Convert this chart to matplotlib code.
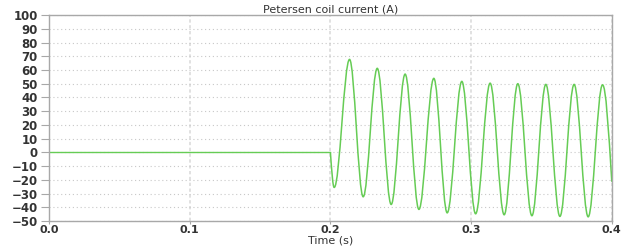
import matplotlib
matplotlib.use('Agg')
from matplotlib import pyplot as plt
from matplotlib.path import Path
from matplotlib.patches import PathPatch
import numpy as np

# current is zero until the fault at 0.2 s
t_flat = [0.0, 0.2]
i_flat = [0.0, 0.0]

# turning points of the coil current (s, A)
t_ext = [0.2000, 0.2027, 0.2136, 0.2233, 0.2333, 0.2432, 0.2531, 0.2629,
         0.2735, 0.2830, 0.2934, 0.3032, 0.3135, 0.3235, 0.3332, 0.3432,
         0.3531, 0.3631, 0.3732, 0.3832, 0.3934, 0.4000]
i_ext = [0.0, -25.5, 67.7, -32.3, 61.2, -37.9, 57.0, -41.5,
         53.9, -44.0, 51.7, -44.7, 50.4, -45.4, 50.0, -46.1,
         49.5, -46.6, 49.5, -46.9, 49.2, -21.4]

x_ticks = [0.0, 0.1, 0.2, 0.3, 0.4]
y_ticks = list(range(-50, 101, 10))

line_color = '#66cc55'
text_color = '#333333'


def smooth_path(ts, ys):
    # cubic bezier pieces, flat at each turning point
    verts = [(ts[0], ys[0])]
    codes = [Path.MOVETO]
    n = len(ts)
    for k in range(n - 1):
        t0, y0 = ts[k], ys[k]
        t1, y1 = ts[k + 1], ys[k + 1]
        d = t1 - t0
        s0 = 0.0
        s1 = 0.0
        if k == 0:
            s0 = (y1 - y0) / d * 1.5
        if k + 1 == n - 1:
            s1 = (y1 - y0) / d * 1.5
        a = 0.36
        verts += [(t0 + a * d, y0 + s0 * a * d),
                  (t1 - a * d, y1 - s1 * a * d),
                  (t1, y1)]
        codes += [Path.CURVE4] * 3
    return Path(verts, codes)


fig, ax = plt.subplots(figsize=(6.42, 2.47), dpi=100)
fig.subplots_adjust(left=0.0763, right=0.953, top=0.939, bottom=0.105)

ax.plot(t_flat, i_flat, color=line_color, lw=1.0)
ax.add_patch(PathPatch(smooth_path(t_ext, i_ext), fill=False,
                       edgecolor=line_color, lw=1.1))

ax.set_xlim(0, 0.4)
ax.set_ylim(-50, 100)
ax.set_xticks(x_ticks)
ax.set_xticklabels(['%.1f' % v for v in x_ticks])
ax.set_yticks(y_ticks)

ax.yaxis.grid(True, linestyle=(0, (1, 2.5)), color='#c8c8c8', lw=0.8)
ax.xaxis.grid(True, linestyle=(0, (2, 1.5)), color='#dcdcdc', lw=1.2)
ax.set_axisbelow(True)

for s in ax.spines.values():
    s.set_color('#a8a8a8')
    s.set_linewidth(1.0)

ax.tick_params(axis='y', direction='out', length=6, width=0.8,
               color='#a8a8a8', labelsize=8.5, labelcolor=text_color, pad=2)
ax.tick_params(axis='x', direction='out', length=2, width=0.8,
               color='#a8a8a8', labelsize=8, labelcolor=text_color, pad=1)
for lab in ax.get_xticklabels() + ax.get_yticklabels():
    lab.set_fontweight('bold')

ax.set_title('Petersen coil current (A)', fontsize=8, color=text_color, pad=2)
ax.set_xlabel('Time (s)', fontsize=8, color=text_color, labelpad=0)

fig.savefig('out.png', dpi=100)
